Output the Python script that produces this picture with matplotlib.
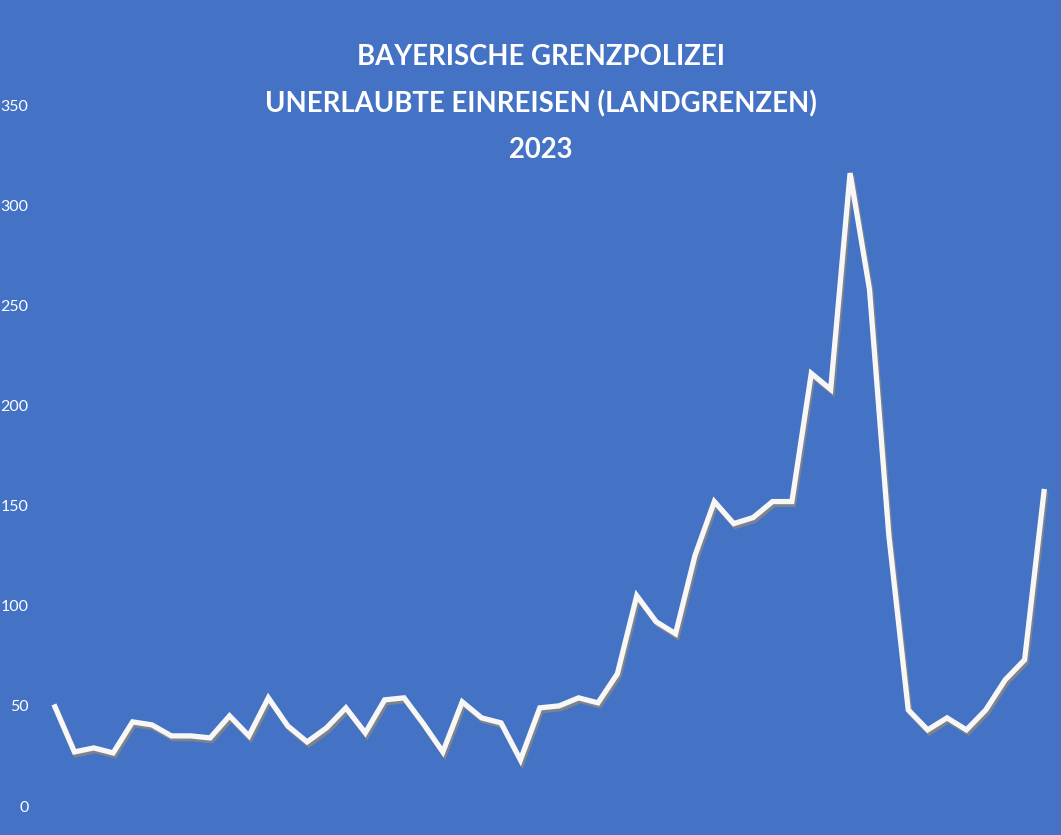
import numpy as np
import matplotlib
matplotlib.use("Agg")
import matplotlib.pyplot as plt
import matplotlib.patheffects as pe

# ── Data: unerlaubte Einreisen pro Kalenderwoche 2023 ─────────────────────────
weeks = list(range(1, 53))
einreisen = [49.5, 27, 29, 26.5, 42, 40.5, 35, 35, 34, 45,
             35, 54, 40, 32, 39, 49, 36.5, 53, 54, 41,
             27, 52, 44, 41.5, 23, 49, 50, 54, 51.5, 66,
             105, 92, 86, 125, 152, 141, 144, 152, 152, 216,
             208, 316, 258, 135, 48, 38, 44, 38, 48, 63,
             73, 157]
yticks = [0, 50, 100, 150, 200, 250, 300, 350]
title_lines = ["BAYERISCHE GRENZPOLIZEI",
               "UNERLAUBTE EINREISEN (LANDGRENZEN)",
               "2023"]

BG = "#4472C4"
W, H = 1061, 835
FONT = ["Lato", "DejaVu Sans"]

fig = plt.figure(figsize=(W / 100, H / 100), dpi=100, facecolor=BG)
# axes placed so week 1 sits at x=55px, week 52 at x=1044px, 0..350 spans y=806..105px
ax = fig.add_axes([55 / W, 1 - 806 / H, (1044 - 55) / W, (806 - 105) / H])
ax.set_facecolor(BG)
ax.plot(weeks, einreisen, color="#f7f7f7", lw=3.8, solid_joinstyle="miter",
        clip_on=False,
        path_effects=[pe.SimpleLineShadow(offset=(1.2, -2.0), shadow_color="#858585", alpha=0.9),
                      pe.Normal()])
ax.set_xlim(1, 52)
ax.set_ylim(0, 350)
ax.set_xticks([])
ax.set_yticks(yticks)
ax.set_yticklabels([str(v) for v in yticks], color="white", family=FONT, fontsize=11.5)
ax.tick_params(axis="y", length=0, pad=19)
for s in ax.spines.values():
    s.set_visible(False)

for i, line in enumerate(title_lines):
    fig.text(541 / W, 1 - (57 + 46.5 * i) / H, line, ha="center", va="center",
             color="white", fontsize=19.8, fontweight="bold", family=FONT)

fig.savefig("out.png", dpi=100, facecolor=BG)
